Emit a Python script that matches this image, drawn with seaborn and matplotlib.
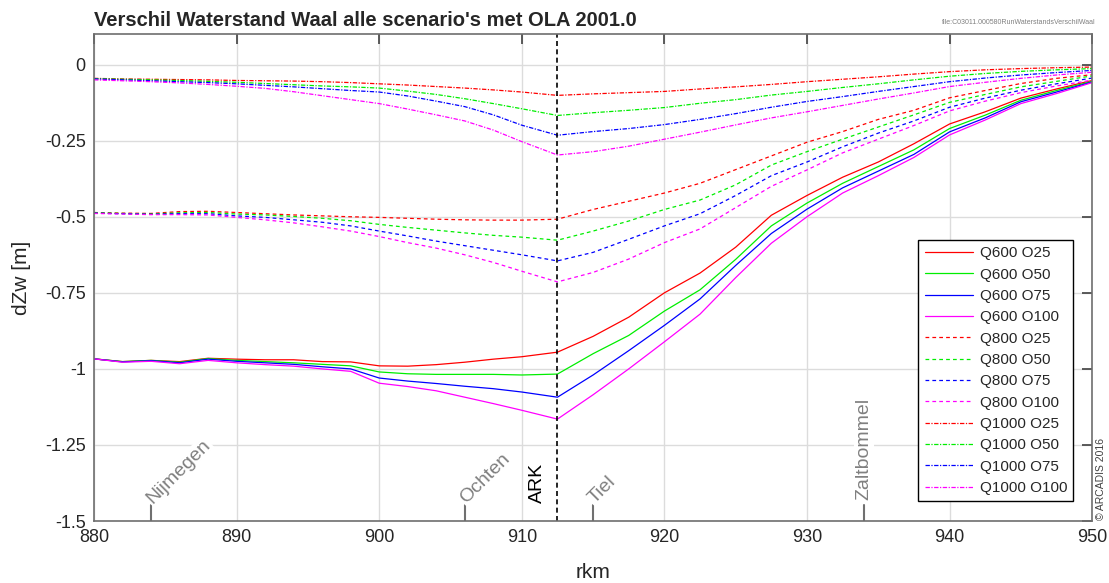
# Verschil waterstand Waal - alle scenario's (OLA 2001.0)
import numpy as np
import pandas as pd
import matplotlib
matplotlib.use('Agg')
import matplotlib.pyplot as plt
import seaborn as sns

# rivierkilometers
km = [880, 882, 884, 886, 888, 890, 892, 894, 896, 898, 900, 902, 904, 906, 908, 910,
      912.5, 915, 917.5, 920, 922.5, 925, 927.5, 930, 932.5, 935, 937.5, 940, 942.5,
      945, 947.5, 950]

# Q600 (doorgetrokken)
q600_o25 = [-0.967, -0.976, -0.972, -0.976, -0.965, -0.968, -0.970, -0.970, -0.976, -0.977,
            -0.990, -0.991, -0.986, -0.978, -0.968, -0.960, -0.945, -0.893, -0.830, -0.750,
            -0.685, -0.600, -0.495, -0.430, -0.370, -0.320, -0.260, -0.195, -0.155, -0.110,
            -0.080, -0.052]
q600_o50 = [-0.967, -0.976, -0.972, -0.978, -0.966, -0.972, -0.976, -0.980, -0.985, -0.990,
            -1.010, -1.016, -1.018, -1.018, -1.018, -1.020, -1.017, -0.950, -0.890, -0.810,
            -0.740, -0.640, -0.530, -0.455, -0.390, -0.335, -0.280, -0.210, -0.166, -0.117,
            -0.085, -0.055]
q600_o75 = [-0.967, -0.977, -0.973, -0.980, -0.968, -0.975, -0.980, -0.985, -0.993, -1.000,
            -1.030, -1.040, -1.048, -1.057, -1.065, -1.076, -1.093, -1.020, -0.940, -0.857,
            -0.770, -0.660, -0.555, -0.475, -0.405, -0.350, -0.295, -0.221, -0.175, -0.122,
            -0.090, -0.057]
q600_o100 = [-0.967, -0.978, -0.975, -0.983, -0.972, -0.980, -0.986, -0.991, -1.000, -1.008,
             -1.047, -1.058, -1.072, -1.093, -1.114, -1.136, -1.165, -1.085, -1.000, -0.911,
             -0.820, -0.700, -0.587, -0.500, -0.422, -0.365, -0.305, -0.231, -0.182, -0.128,
             -0.095, -0.059]

# Q800 (gestreept)
q800_o25 = [-0.486, -0.488, -0.489, -0.483, -0.482, -0.486, -0.490, -0.494, -0.497, -0.500,
            -0.502, -0.505, -0.508, -0.510, -0.511, -0.511, -0.508, -0.476, -0.449, -0.422,
            -0.390, -0.345, -0.300, -0.255, -0.220, -0.180, -0.150, -0.109, -0.085, -0.062,
            -0.045, -0.033]
q800_o50 = [-0.487, -0.489, -0.491, -0.487, -0.486, -0.491, -0.494, -0.499, -0.505, -0.513,
            -0.525, -0.535, -0.544, -0.553, -0.561, -0.567, -0.577, -0.547, -0.514, -0.476,
            -0.445, -0.395, -0.330, -0.286, -0.245, -0.205, -0.165, -0.124, -0.098, -0.073,
            -0.055, -0.037]
q800_o75 = [-0.488, -0.490, -0.492, -0.490, -0.490, -0.497, -0.502, -0.510, -0.518, -0.530,
            -0.547, -0.563, -0.580, -0.595, -0.610, -0.625, -0.645, -0.617, -0.574, -0.530,
            -0.490, -0.430, -0.365, -0.320, -0.270, -0.225, -0.185, -0.140, -0.110, -0.084,
            -0.063, -0.044]
q800_o100 = [-0.489, -0.491, -0.493, -0.493, -0.494, -0.502, -0.510, -0.520, -0.533, -0.547,
             -0.565, -0.585, -0.603, -0.625, -0.650, -0.679, -0.714, -0.683, -0.639, -0.585,
             -0.540, -0.470, -0.400, -0.346, -0.290, -0.245, -0.200, -0.152, -0.120, -0.092,
             -0.070, -0.051]

# Q1000 (streep-punt)
q1000_o25 = [-0.045, -0.047, -0.048, -0.049, -0.050, -0.052, -0.053, -0.054, -0.056, -0.059,
             -0.063, -0.067, -0.072, -0.077, -0.083, -0.090, -0.101, -0.096, -0.092, -0.088,
             -0.080, -0.073, -0.065, -0.056, -0.048, -0.040, -0.031, -0.023, -0.017, -0.013,
             -0.010, -0.008]
q1000_o50 = [-0.046, -0.048, -0.050, -0.052, -0.055, -0.058, -0.062, -0.066, -0.070, -0.073,
             -0.077, -0.087, -0.098, -0.112, -0.128, -0.145, -0.167, -0.158, -0.150, -0.141,
             -0.127, -0.115, -0.100, -0.088, -0.075, -0.063, -0.050, -0.038, -0.029, -0.022,
             -0.017, -0.013]
q1000_o75 = [-0.047, -0.050, -0.053, -0.056, -0.059, -0.063, -0.068, -0.073, -0.079, -0.085,
             -0.090, -0.103, -0.120, -0.138, -0.165, -0.199, -0.232, -0.220, -0.210, -0.197,
             -0.180, -0.161, -0.140, -0.121, -0.105, -0.088, -0.072, -0.056, -0.044, -0.034,
             -0.026, -0.019]
q1000_o100 = [-0.050, -0.053, -0.056, -0.060, -0.065, -0.071, -0.078, -0.089, -0.102, -0.115,
              -0.128, -0.146, -0.165, -0.185, -0.215, -0.253, -0.297, -0.286, -0.268, -0.245,
              -0.222, -0.198, -0.175, -0.155, -0.134, -0.113, -0.093, -0.072, -0.058, -0.045,
              -0.034, -0.025]

scenarios = ['Q600 O25', 'Q600 O50', 'Q600 O75', 'Q600 O100',
             'Q800 O25', 'Q800 O50', 'Q800 O75', 'Q800 O100',
             'Q1000 O25', 'Q1000 O50', 'Q1000 O75', 'Q1000 O100']
series = [q600_o25, q600_o50, q600_o75, q600_o100,
          q800_o25, q800_o50, q800_o75, q800_o100,
          q1000_o25, q1000_o50, q1000_o75, q1000_o100]

# plaatsen langs de rivier
places = ['Nijmegen', 'Ochten', 'Tiel']
places_km = [884, 906, 915]
vert_places = ['Zaltbommel']
vert_places_km = [934]
ark_km = 912.5

df = pd.concat([pd.DataFrame({'km': km, 'dZw': s, 'scenario': n})
                for n, s in zip(scenarios, series)], ignore_index=True)

colors = ['#ff0000', '#00ee00', '#0000ff', '#ff00ff']
palette = {n: colors[i % 4] for i, n in enumerate(scenarios)}
dash_styles = ['', (3, 2.5), (3.5, 1.2, 1, 1.2)]
dashes = {n: dash_styles[i // 4] for i, n in enumerate(scenarios)}

sns.set_style('white')
plt.rcParams['font.family'] = ['Liberation Sans', 'DejaVu Sans']

fig = plt.figure(figsize=(11.09, 5.83), dpi=100)
ax = fig.add_axes([0.0848, 0.1063, 0.900, 0.835])

sns.lineplot(data=df, x='km', y='dZw', hue='scenario', style='scenario',
             palette=palette, dashes=dashes, hue_order=scenarios, style_order=scenarios,
             linewidth=0.9, sort=False, estimator=None, ax=ax)

ax.set_xlim(880, 950)
ax.set_ylim(-1.5, 0.1)
ax.set_xticks(np.arange(880, 951, 10))
ax.set_yticks([0, -0.25, -0.5, -0.75, -1, -1.25, -1.5])
ax.set_yticklabels(['0', '-0.25', '-0.5', '-0.75', '-1', '-1.25', '-1.5'])
ax.grid(True, color='#dcdcdc', linewidth=1)
ax.set_axisbelow(True)
ax.tick_params(direction='in', length=7, width=1.2, color='#404040', top=True, right=True,
               labelsize=13, pad=6, labelcolor='#262626')
for sp in ax.spines.values():
    sp.set_color('#6e6e6e')
    sp.set_linewidth(1.2)

ax.set_xlabel('rkm', fontsize=15, color='#262626', labelpad=12)
ax.set_ylabel('dZw [m]', fontsize=15, color='#262626', labelpad=10)

# ARK lijn
ax.axvline(ark_km, color='black', linestyle=(0, (3, 2)), linewidth=1.2)
ax.text(ark_km - 1.4, -1.44, 'ARK', rotation=90, rotation_mode='anchor', ha='left',
        va='center', fontsize=14, color='black')

for name, k in zip(places, places_km):
    ax.plot([k, k], [-1.5, -1.448], color='#707070', linewidth=1.5)
    ax.text(k - 0.1, -1.435, name, rotation=45, rotation_mode='anchor', ha='left',
            va='center', fontsize=14, color='#808080',
            bbox=dict(facecolor='white', edgecolor='none', pad=1))
for name, k in zip(vert_places, vert_places_km):
    ax.plot([k, k], [-1.5, -1.448], color='#707070', linewidth=1.5)
    ax.text(k, -1.43, name, rotation=90, rotation_mode='anchor', ha='left',
            va='center', fontsize=14, color='#808080',
            bbox=dict(facecolor='white', edgecolor='none', pad=1))

handles, labels = ax.get_legend_handles_labels()
leg = ax.legend(handles, labels, loc='upper left', bbox_to_anchor=(0.826, 0.577),
                fontsize=11, frameon=True, fancybox=False, framealpha=1,
                edgecolor='black', borderpad=0.4, labelspacing=0.48,
                handlelength=3.2, handletextpad=0.4, borderaxespad=0)
leg.get_frame().set_linewidth(1.0)

fig.text(0.0848, 0.965, "Verschil Waterstand Waal alle scenario's met OLA 2001.0",
         fontsize=14.5, fontweight='bold', ha='left', va='center')
fig.text(0.988, 0.962, 'file:C03011.000580RunWaterstandsVerschilWaal',
         fontsize=5, color='#808080', ha='right', va='center')
fig.text(0.993, 0.108, '\u00a9 ARCADIS 2016', rotation=90, fontsize=7.5,
         color='#404040', ha='center', va='bottom')

fig.savefig('out.png', dpi=100)
